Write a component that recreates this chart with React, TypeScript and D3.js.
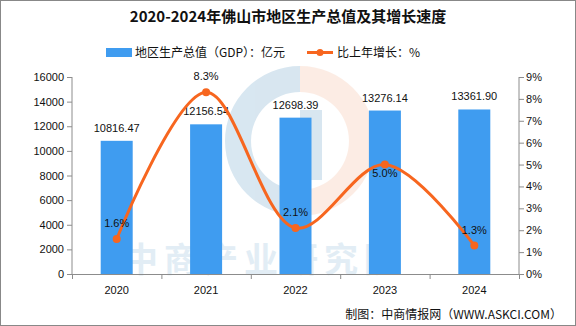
import React from "react";
import * as d3 from "d3";

const years = ["2020", "2021", "2022", "2023", "2024"];
const gdp = [10816.47, 12156.54, 12698.39, 13276.14, 13361.9];
const growth = [1.6, 8.3, 2.1, 5.0, 1.3];
const leftTicks = [0, 2000, 4000, 6000, 8000, 10000, 12000, 14000, 16000];
const rightTicks = [0, 1, 2, 3, 4, 5, 6, 7, 8, 9];
const growthLabelBelow = [false, false, false, true, false];

const W = 576, H = 326;
const L = 72, R = 519, T = 77, B = 274;
const cjk = "'Noto Sans CJK SC', 'Liberation Sans', sans-serif";
const sans = "'Liberation Sans', Arial, sans-serif";
const axisColor = "#8c8c8c";

export default function App() {
  const x = d3.scaleBand<string>().domain(years).range([L, R]).paddingInner(0).paddingOuter(0);
  const yL = d3.scaleLinear().domain([0, 16000]).range([B, T]);
  const yR = d3.scaleLinear().domain([0, 9]).range([B, T]);
  const barW = 32;
  const cx = (i: number) => (x(years[i]) as number) + x.bandwidth() / 2;
  const line = d3
    .line<number>()
    .x((_, i) => cx(i))
    .y((d) => yR(d))
    .curve(d3.curveCatmullRom.alpha(0.5));

  return (
    <svg width={W} height={H} style={{ position: "absolute", left: 0, top: 0, display: "block" }}>
      <rect x={0.5} y={0.5} width={W - 1} height={H - 1} fill="#fff" stroke="#888" />
      <text x={288} y={22} textAnchor="middle" fontFamily={cjk} fontWeight="bold" fontSize={15} fill="#111">
        2020-2024年佛山市地区生产总值及其增长速度
      </text>
      {/* legend */}
      <rect x={106} y={48} width={26} height={9} fill="#3f9cf0" />
      <text x={135} y={57} fontFamily={cjk} fontSize={12} fill="#111">地区生产总值（GDP）：亿元</text>
      <line x1={307} x2={333} y1={52.5} y2={52.5} stroke="#f7661f" strokeWidth={3} />
      <circle cx={320} cy={52.5} r={3.5} fill="#f7661f" />
      <text x={337} y={57} fontFamily={cjk} fontSize={12} fill="#111">比上年增长：%</text>

      {/* watermark logo */}
      <g opacity={0.45}>
        <path d="M 300 66 A 75 75 0 0 0 300 216 L 300 190 A 49 49 0 0 1 300 92 Z" fill="#a9c9df" />
        <rect x={300} y={110} width={22} height={70} fill="#a9c9df" />
        <path d="M 300 66 A 75 75 0 0 1 375 141 A 75 75 0 0 1 300 216 L 300 190 A 49 49 0 0 0 300 92 Z" fill="#f7c6ad" opacity={0.7} />
      </g>
      <text x={264} y={272} textAnchor="middle" fontFamily={cjk} fontWeight="bold" fontSize={34} fill="#c6dcec" opacity={0.5} letterSpacing={6}>
        中商产业研究院
      </text>

      {/* bars */}
      {gdp.map((v, i) => (
        <rect key={i} x={cx(i) - barW / 2} y={yL(v)} width={barW} height={B - yL(v)} fill="#3f9cf0" />
      ))}
      {gdp.map((v, i) => (
        <text key={"l" + i} x={cx(i)} y={yL(v) - 9} textAnchor="middle" fontFamily={sans} fontSize={11} fill="#111">
          {v.toFixed(2)}
        </text>
      ))}

      {/* axes */}
      <line x1={L} x2={L} y1={T} y2={B} stroke={axisColor} />
      <line x1={R} x2={R} y1={T} y2={B} stroke={axisColor} />
      <line x1={L} x2={R} y1={B + 0.5} y2={B + 0.5} stroke={axisColor} />
      {leftTicks.map((t) => (
        <g key={"lt" + t}>
          <line x1={L - 5} x2={L} y1={yL(t) + 0.5} y2={yL(t) + 0.5} stroke={axisColor} />
          <text x={L - 8} y={yL(t) + 4} textAnchor="end" fontFamily={sans} fontSize={11} fill="#111">{t}</text>
        </g>
      ))}
      {rightTicks.map((t) => (
        <g key={"rt" + t}>
          <line x1={R} x2={R + 5} y1={yR(t) + 0.5} y2={yR(t) + 0.5} stroke={axisColor} />
          <text x={R + 7} y={yR(t) + 4} textAnchor="start" fontFamily={sans} fontSize={11} fill="#111">{t}%</text>
        </g>
      ))}
      {years.map((yv, i) => (
        <line key={"xt" + i} x1={(x(yv) as number) + 0.5} x2={(x(yv) as number) + 0.5} y1={B} y2={B + 5} stroke={axisColor} />
      ))}
      <line x1={R + 0.5} x2={R + 0.5} y1={B} y2={B + 5} stroke={axisColor} />
      {years.map((yv, i) => (
        <text key={"xl" + i} x={cx(i)} y={294} textAnchor="middle" fontFamily={sans} fontSize={11} fill="#111">{yv}</text>
      ))}

      {/* growth line */}
      <path d={line(growth) || ""} fill="none" stroke="#f7661f" strokeWidth={3} />
      {growth.map((g, i) => (
        <circle key={"c" + i} cx={cx(i)} cy={yR(g)} r={4} fill="#f7661f" />
      ))}
      {growth.map((g, i) => (
        <text key={"g" + i} x={cx(i)} y={growthLabelBelow[i] ? yR(g) + 12 : yR(g) - 12} textAnchor="middle" fontFamily={sans} fontSize={11} fill="#111">
          {g.toFixed(1)}%
        </text>
      ))}

      <text x={562} y={319} textAnchor="end" fontFamily={cjk} fontSize={12} fill="#111">制图：中商情报网（WWW.ASKCI.COM）</text>
    </svg>
  );
}
